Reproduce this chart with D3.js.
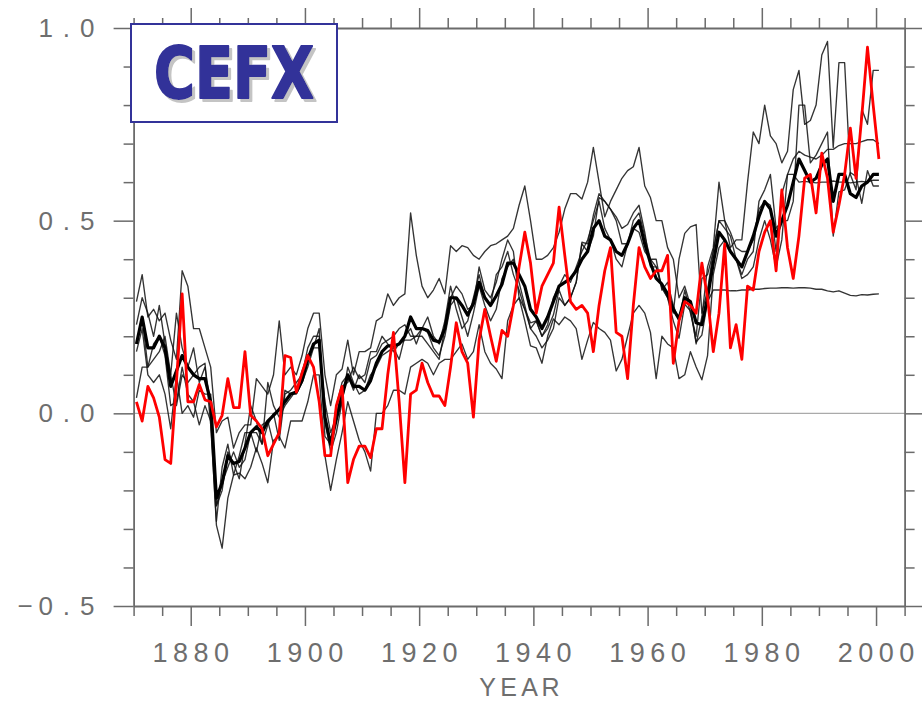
<!DOCTYPE html>
<html>
<head>
<meta charset="utf-8">
<script src="https://cdn.jsdelivr.net/npm/d3@7"></script>
<style>
  html, body { margin: 0; padding: 0; background: #fff; }
  svg { display: block; }
</style>
</head>
<body>
<svg id="chart" width="922" height="702"></svg>
<script>
// Global-mean surface air temperature anomaly (deg C), annual means 1870-2000:
// observations (red), five model ensemble members (thin black) and their mean (thick black).
const firstYear = 1870;

const observed = [
  0.03, -0.02, 0.07, 0.04, -0.01, -0.12, -0.13, 0.08, 0.31, 0.03,
  0.03, 0.075, 0.035, 0.03, -0.035, -0.005, 0.09, 0.015, 0.015, 0.16,
  -0.005, -0.02, -0.04, -0.11, -0.08, -0.05, 0.15, 0.145, 0.055, 0.105,
  0.15, 0.12, 0.03, -0.11, -0.11, 0.02, 0.07, -0.18, -0.12, -0.085,
  -0.085, -0.115, -0.04, -0.04, 0.10, 0.21, 0.03, -0.18, 0.05, 0.06,
  0.13, 0.08, 0.045, 0.045, 0.02, 0.12, 0.235, 0.16, 0.13, -0.01,
  0.19, 0.27, 0.20, 0.135, 0.215, 0.20, 0.28, 0.38, 0.47, 0.39,
  0.26, 0.33, 0.36, 0.39, 0.535, 0.41, 0.29, 0.27, 0.28, 0.26,
  0.16, 0.28, 0.37, 0.43, 0.21, 0.20, 0.09, 0.28, 0.43, 0.38,
  0.35, 0.37, 0.37, 0.41, 0.13, 0.24, 0.29, 0.28, 0.26, 0.39,
  0.30, 0.16, 0.26, 0.44, 0.17, 0.23, 0.14, 0.33, 0.32, 0.42,
  0.47, 0.50, 0.37, 0.58, 0.43, 0.35, 0.46, 0.61, 0.62, 0.52,
  0.675, 0.61, 0.47, 0.54, 0.62, 0.74, 0.61, 0.77, 0.95, 0.80,
  0.66
];

const ensembleMean = [
  0.18, 0.25, 0.17, 0.17, 0.20, 0.17, 0.07, 0.11, 0.15, 0.12,
  0.10, 0.09, 0.09, 0.03, -0.22, -0.18, -0.11, -0.13, -0.125, -0.09,
  -0.05, -0.035, -0.05, -0.02, -0.005, 0.01, 0.03, 0.05, 0.055, 0.085,
  0.14, 0.18, 0.19, -0.01, -0.08, -0.015, 0.045, 0.10, 0.07, 0.07,
  0.06, 0.085, 0.13, 0.16, 0.175, 0.175, 0.18, 0.20, 0.25, 0.22,
  0.22, 0.215, 0.19, 0.185, 0.22, 0.30, 0.30, 0.28, 0.255, 0.285,
  0.34, 0.30, 0.28, 0.305, 0.335, 0.39, 0.39, 0.36, 0.33, 0.27,
  0.25, 0.22, 0.25, 0.29, 0.33, 0.34, 0.35, 0.37, 0.40, 0.42,
  0.48, 0.50, 0.46, 0.45, 0.42, 0.41, 0.44, 0.48, 0.50, 0.44,
  0.39, 0.35, 0.335, 0.31, 0.27, 0.245, 0.30, 0.29, 0.235, 0.23,
  0.30, 0.39, 0.47, 0.45, 0.42, 0.40, 0.38, 0.42, 0.46, 0.51,
  0.55, 0.53, 0.46, 0.50, 0.54, 0.60, 0.66, 0.63, 0.60, 0.61,
  0.645, 0.66, 0.55, 0.62, 0.62, 0.57, 0.56, 0.59, 0.60, 0.62,
  0.62
];

const member1 = [
  0.29, 0.36, 0.25, 0.27, 0.24, 0.26, 0.19, 0.14, 0.37, 0.33,
  0.22, 0.22, 0.17, 0.12, -0.05, -0.02, -0.01, -0.09, -0.05, -0.03,
  -0.03, 0.09, 0.07, 0.05, 0.10, 0.24, 0.10, 0.12, 0.10, 0.15,
  0.22, 0.26, 0.26, 0.10, 0.02, 0.10, 0.115, 0.19, 0.10, 0.16,
  0.16, 0.17, 0.24, 0.25, 0.31, 0.28, 0.30, 0.31, 0.52, 0.41,
  0.33, 0.30, 0.32, 0.35, 0.31, 0.435, 0.42, 0.435, 0.43, 0.41,
  0.40, 0.42, 0.435, 0.44, 0.45, 0.46, 0.48, 0.54, 0.59, 0.50,
  0.40, 0.40, 0.41, 0.43, 0.47, 0.53, 0.57, 0.57, 0.556, 0.60,
  0.69, 0.60, 0.51, 0.55, 0.58, 0.61, 0.63, 0.64, 0.69, 0.59,
  0.56, 0.50, 0.50, 0.43, 0.40, 0.30, 0.33, 0.28, 0.18, 0.25,
  0.38, 0.43, 0.60, 0.50, 0.43, 0.45, 0.45, 0.60, 0.73, 0.70,
  0.80, 0.72, 0.70, 0.65, 0.68, 0.84, 0.89, 0.75, 0.76, 0.80,
  0.93, 0.965, 0.69, 0.91, 0.91, 0.62, 0.58, 0.79, 0.75, 0.89,
  0.89
];

const member2 = [
  0.23, 0.30, 0.26, 0.20, 0.28, 0.18, 0.10, 0.26, 0.17, 0.12,
  0.17, 0.08, 0.12, 0.02, -0.24, -0.20, -0.10, -0.13, -0.17, -0.08,
  0.02, -0.02, -0.08, -0.03, 0.00, -0.07, 0.05, 0.06, 0.08, 0.10,
  0.17, 0.20, 0.20, -0.02, -0.10, -0.05, 0.03, 0.12, 0.08, 0.05,
  0.06, 0.10, 0.12, 0.15, 0.16, 0.17, 0.14, 0.20, 0.22, 0.18,
  0.22, 0.21, 0.17, 0.15, 0.20, 0.28, 0.30, 0.25, 0.20, 0.26,
  0.33, 0.28, 0.24, 0.27, 0.35, 0.38, 0.40, 0.34, 0.28, 0.22,
  0.24, 0.20, 0.23, 0.30, 0.33, 0.36, 0.34, 0.38, 0.42, 0.45,
  0.50, 0.55, 0.48, 0.45, 0.40, 0.38, 0.44, 0.50, 0.52, 0.46,
  0.40, 0.38, 0.33, 0.30, 0.26, 0.40, 0.467, 0.484, 0.49, 0.26,
  0.32, 0.42, 0.50, 0.48, 0.46, 0.40, 0.36, 0.40, 0.42, 0.55,
  0.58, 0.62, 0.48, 0.50, 0.50, 0.55, 0.80, 0.80, 0.65, 0.67,
  0.70, 0.73, 0.46, 0.575, 0.58, 0.625, 0.615, 0.545, 0.63, 0.59,
  0.59
];

const member3 = [
  0.18, 0.25, 0.12, 0.18, 0.20, 0.15, 0.02, 0.03, 0.12, 0.05,
  0.03, -0.03, 0.02, -0.02, -0.29, -0.35, -0.22, -0.16, -0.155, -0.17,
  -0.14, -0.09, -0.13, -0.18, -0.07, -0.06, -0.09, -0.02, -0.02, -0.02,
  0.03, 0.10, 0.10, -0.11, -0.20, -0.12, -0.05, 0.03, -0.02, -0.07,
  -0.10, -0.15, 0.00, 0.00, 0.02, 0.06, 0.06, 0.05, 0.12, 0.13,
  0.14, 0.13, 0.10, 0.13, 0.14, 0.14, 0.16, 0.18, 0.14, 0.16,
  0.23, 0.16, 0.13, 0.115, 0.09, 0.24, 0.28, 0.30, 0.24, 0.175,
  0.17, 0.13, 0.20, 0.245, 0.23, 0.25, 0.24, 0.22, 0.14, 0.19,
  0.236, 0.22, 0.21, 0.19, 0.11, 0.14, 0.20, 0.26, 0.28, 0.26,
  0.21, 0.09, 0.20, 0.18, 0.17, 0.09, 0.10, 0.16, 0.12, 0.087,
  0.15, 0.36, 0.43, 0.45, 0.42, 0.40, 0.35, 0.36, 0.38, 0.45,
  0.50, 0.45, 0.38, 0.45, 0.62, 0.66, 0.68, 0.67, 0.665, 0.66,
  0.67, 0.685, 0.685, 0.695, 0.70, 0.70, 0.70, 0.705, 0.71, 0.71,
  0.70
];

const member4 = [
  0.16, 0.22, 0.10, 0.08, 0.10, 0.05, -0.04, 0.10, 0.00, 0.02,
  -0.01, 0.06, 0.05, 0.05, -0.24, -0.18, -0.14, -0.10, -0.14, -0.12,
  -0.05, -0.10, -0.03, -0.02, -0.08, -0.05, 0.06, 0.05, 0.05, 0.08,
  0.12, 0.17, 0.22, -0.06, -0.08, 0.02, 0.08, 0.10, 0.06, 0.10,
  0.08, 0.14, 0.15, 0.18, 0.19, 0.20, 0.22, 0.23, 0.20, 0.20,
  0.22, 0.25, 0.20, 0.18, 0.24, 0.33, 0.27, 0.22, 0.24, 0.30,
  0.36, 0.30, 0.28, 0.36, 0.38, 0.42, 0.36, 0.32, 0.27, 0.22,
  0.20, 0.17, 0.19, 0.22, 0.30, 0.28, 0.30, 0.34, 0.44, 0.42,
  0.46, 0.56, 0.55, 0.53, 0.50, 0.44, 0.44, 0.48, 0.47, 0.42,
  0.40, 0.40, 0.32, 0.34, 0.28, 0.24, 0.32, 0.26, 0.20, 0.35,
  0.36, 0.42, 0.50, 0.50, 0.47, 0.43, 0.42, 0.42, 0.45, 0.53,
  0.55, 0.54, 0.42, 0.57, 0.62, 0.62, 0.60, 0.602, 0.60, 0.598,
  0.60, 0.60, 0.603, 0.60, 0.60, 0.598, 0.60, 0.602, 0.60, 0.605,
  0.605
];

const member5 = [
  0.04, 0.12, 0.12, 0.14, 0.16, 0.20, 0.10, 0.02, 0.10, 0.08,
  0.10, 0.12, 0.13, -0.03, -0.28, -0.14, -0.08, -0.16, -0.11, -0.05,
  -0.05, -0.05, -0.08, 0.08, 0.02, -0.01, 0.02, 0.04, 0.06, 0.11,
  0.15, 0.17, 0.17, 0.03, -0.05, -0.01, 0.07, 0.08, 0.12, 0.09,
  0.10, 0.16, 0.16, 0.20, 0.18, 0.16, 0.18, 0.19, 0.19, 0.20,
  0.20, 0.18, 0.16, 0.14, 0.22, 0.30, 0.33, 0.31, 0.27, 0.28,
  0.38, 0.32, 0.30, 0.34, 0.40, 0.45, 0.42, 0.30, 0.27, 0.235,
  0.24, 0.20, 0.22, 0.255, 0.32, 0.28, 0.30, 0.34, 0.444, 0.44,
  0.514, 0.57, 0.55, 0.53, 0.51, 0.48, 0.49, 0.52, 0.54, 0.47,
  0.38, 0.38, 0.325, 0.30, 0.24, 0.195, 0.283, 0.266, 0.185, 0.203,
  0.29, 0.32, 0.32, 0.32, 0.318, 0.318, 0.32, 0.32, 0.322, 0.322,
  0.324, 0.325, 0.325, 0.326, 0.326, 0.325, 0.326, 0.326, 0.325, 0.322,
  0.322, 0.318, 0.315, 0.318, 0.312, 0.306, 0.305, 0.308, 0.307, 0.309,
  0.31
];

const members = [member1, member2, member3, member4, member5];

const xMajorTicks = [1880, 1900, 1920, 1940, 1960, 1980, 2000];
const xTickLabels = ["1880", "1900", "1920", "1940", "1960", "1980", "2000"];
const yMajorTicks = [-0.5, 0.0, 0.5, 1.0];
const yTickLabels = ["\u22120.5", "0.0", "0.5", "1.0"];
const xTitle = "YEAR";
const panelTitle = "CEFX";

// ---- layout ----
const W = 922, H = 702;
const plot = { left: 133.6, right: 904.6, top: 28, bottom: 606 };
const axisColor = "#6b6b6b";
const labelColor = "#6e6e6e";

const svg = d3.select("#chart");
svg.append("rect").attr("width", W).attr("height", H).attr("fill", "#fff");

// soft grey drop shadow for the panel title
const defs = svg.append("defs");
const shadow = defs.append("filter").attr("id", "titleShadow")
  .attr("x", "-10%").attr("y", "-10%").attr("width", "130%").attr("height", "130%");
shadow.append("feOffset").attr("in", "SourceAlpha").attr("dx", 3).attr("dy", 3).attr("result", "off");
shadow.append("feFlood").attr("flood-color", "#c4c4c4").attr("result", "col");
shadow.append("feComposite").attr("in", "col").attr("in2", "off").attr("operator", "in").attr("result", "sh");
const merge = shadow.append("feMerge");
merge.append("feMergeNode").attr("in", "sh");
merge.append("feMergeNode").attr("in", "SourceGraphic");

const x = d3.scaleLinear().domain([1870, 2005]).range([plot.left, plot.right]);
const y = d3.scaleLinear().domain([-0.5, 1.0]).range([plot.bottom, plot.top]);

const xMinor = d3.range(1870, 2006, 5).filter(v => !xMajorTicks.includes(v));
const yMinor = d3.range(-5, 11).map(v => v / 10).filter(v => !yMajorTicks.some(t => Math.abs(t - v) < 1e-9));

// zero reference line
svg.append("line")
  .attr("x1", plot.left).attr("x2", plot.right)
  .attr("y1", y(0)).attr("y2", y(0))
  .attr("stroke", "#aaa").attr("stroke-width", 1.4);

// annual means are drawn at mid-year
const line = d3.line()
  .x((d, i) => x(firstYear + i + 0.5))
  .y(d => y(d));

const series = svg.append("g").attr("fill", "none").attr("stroke-linejoin", "round");

series.selectAll("path.member")
  .data(members)
  .join("path")
  .attr("class", "member")
  .attr("d", line)
  .attr("stroke", "#111")
  .attr("stroke-opacity", 0.85)
  .attr("stroke-width", 1.35);

series.append("path")
  .datum(ensembleMean)
  .attr("d", line)
  .attr("stroke", "#000")
  .attr("stroke-width", 3.2);

series.append("path")
  .datum(observed)
  .attr("d", line)
  .attr("stroke", "#ff0000")
  .attr("stroke-width", 2.8);

// ---- axes: frame with outward ticks on all four sides ----
function styleAxis(g) {
  g.selectAll("path.domain").attr("stroke", axisColor).attr("stroke-width", 1.8);
  g.selectAll(".tick line").attr("stroke", axisColor).attr("stroke-width", 1.5);
  g.selectAll(".tick text").remove();
}
function addAxis(axisFn, scale, values, size, transform, withDomain) {
  const g = svg.append("g")
    .attr("transform", transform)
    .call(axisFn(scale).tickValues(values).tickSize(size).tickSizeOuter(0).tickFormat(""));
  styleAxis(g);
  if (!withDomain) g.select("path.domain").remove();
  return g;
}
addAxis(d3.axisBottom, x, xMinor, 10, `translate(0,${plot.bottom})`, false);
addAxis(d3.axisBottom, x, xMajorTicks, 20, `translate(0,${plot.bottom})`, true);
addAxis(d3.axisTop, x, xMinor, 10, `translate(0,${plot.top})`, false);
addAxis(d3.axisTop, x, xMajorTicks, 20, `translate(0,${plot.top})`, true);
addAxis(d3.axisLeft, y, yMinor, 10, `translate(${plot.left},0)`, false);
addAxis(d3.axisLeft, y, yMajorTicks, 20, `translate(${plot.left},0)`, true);
addAxis(d3.axisRight, y, yMinor, 10, `translate(${plot.right},0)`, false);
addAxis(d3.axisRight, y, yMajorTicks, 20, `translate(${plot.right},0)`, true);

// ---- labels: evenly pitched characters ----
function pitchedText(parent, str, cx, baseline, pitch, size) {
  const chars = Array.from(str);
  const n = chars.length;
  const t = parent.append("text")
    .attr("font-family", "'Liberation Sans', Arial, sans-serif")
    .attr("font-size", size)
    .attr("fill", labelColor)
    .attr("text-anchor", "middle");
  chars.forEach((c, i) => {
    t.append("tspan")
      .attr("x", cx + (i - (n - 1) / 2) * pitch)
      .attr("y", baseline)
      .text(c);
  });
  return t;
}

const labels = svg.append("g");
xMajorTicks.forEach((v, i) => {
  pitchedText(labels, xTickLabels[i], x(v), 662, 20.5, 27);
});
yMajorTicks.forEach((v, i) => {
  const s = yTickLabels[i];
  const n = Array.from(s).length;
  const rightEdge = 97.5;
  const pitch = 20.7;
  const cx = rightEdge - (n / 2) * pitch;
  pitchedText(labels, s, cx, y(v) + 9, pitch, 26);
});
pitchedText(labels, xTitle, (plot.left + plot.right) / 2, 696, 21, 25);

// ---- panel title box ----
const box = svg.append("g");
box.append("rect")
  .attr("x", 131).attr("y", 24).attr("width", 206).attr("height", 98)
  .attr("fill", "#fff").attr("stroke", "#333399").attr("stroke-width", 2);
box.append("text")
  .attr("x", 234).attr("y", 98)
  .attr("text-anchor", "middle")
  .attr("font-family", "'Comic Sans MS', 'DejaVu Sans', sans-serif")
  .attr("font-weight", "bold")
  .attr("font-size", 72)
  .attr("textLength", 160)
  .attr("lengthAdjust", "spacingAndGlyphs")
  .attr("fill", "#333399")
  .attr("stroke", "#333399")
  .attr("stroke-width", 2)
  .attr("stroke-linejoin", "round")
  .attr("filter", "url(#titleShadow)")
  .text(panelTitle);
</script>
</body>
</html>
